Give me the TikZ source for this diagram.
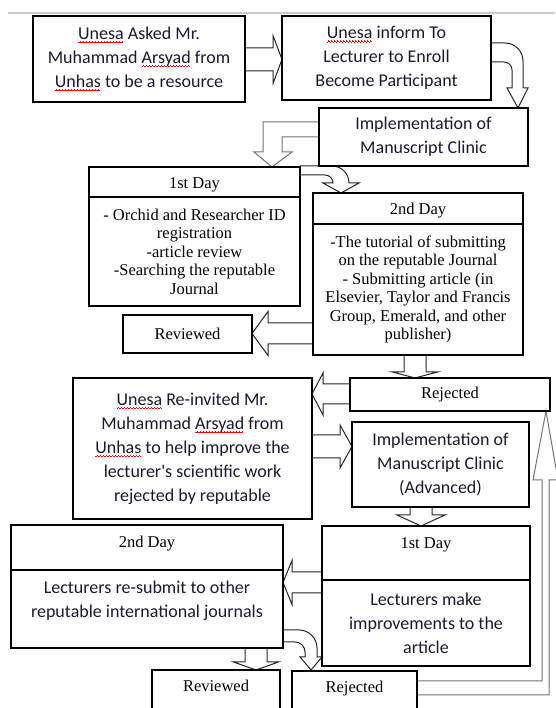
\documentclass[tikz,border=0pt]{standalone}
\usepackage{fontspec}
\usetikzlibrary{calc,positioning,backgrounds}
\newfontfamily\carlito{Carlito}
\newfontfamily\tnr{Liberation Serif}
\definecolor{ink}{RGB}{28,24,48}
\definecolor{rule}{RGB}{200,200,210}
% red squiggle under a word
\newcommand\spell[1]{\setbox0\hbox{#1}\rlap{\textcolor{red}{\leaders\hbox{\rule[-3.6pt]{0.75pt}{0.7pt}\rule[-3pt]{0.75pt}{0.7pt}\rule[-2.4pt]{0.75pt}{0.7pt}\rule[-3pt]{0.75pt}{0.7pt}}\hskip\wd0}}\box0\relax}
% tail, angle, length, shaft half width, head half width, head length
\newcommand\blockarrow[6]{\draw[blk,shift={(#1)},rotate=#2] (0,-#4) -- (#3-#6,-#4) -- (#3-#6,-#5) -- (#3,0) -- (#3-#6,#5) -- (#3-#6,#4) -- (0,#4);}
\tikzset{
  box/.style={draw, line width=2.6pt, outer sep=0pt, inner sep=0pt, align=center, text=ink, font={\carlito\fontsize{18}{24}\selectfont}},
  tbox/.style={box, text=black, font={\tnr\fontsize{16.5}{18.5}\selectfont}},
  blk/.style={draw=black!85, line width=1pt, fill=white, line join=miter}
}
\begin{document}
\begin{tikzpicture}[x=1pt,y=1pt]
\useasboundingbox (0,0) rectangle (555,708);
\draw [line width=2pt, rule] (8,695) -- (555,695);
%first visit
\node[box, minimum width=212, minimum height=86] (ask) at (139,649) {\spell{Unesa} Asked Mr.\\ Muhammad \spell{Arsyad} from\\ \spell{Unhas} to be a resource};
\node[box, minimum width=209, minimum height=84] (inform) at (386.5,650) {\spell{Unesa} inform To\\ Lecturer to Enroll\\ Become Participant};
\node[box, minimum width=209, minimum height=58] (clinic) at (423.5,571) {Implementation of\\ Manuscript Clinic};
\node[tbox, minimum width=211, text height=21.5, text depth=8.5] (d1h) at (194.5,526) {1st Day};
\node[tbox, minimum width=211, minimum height=109, below=0pt of d1h] (d1) {- Orchid and Researcher ID\\ registration\\ -article review\\ -Searching the reputable\\ Journal};
\node[tbox, minimum width=210, text height=21.5, text depth=9.5] (d2h) at (418,499.5) {2nd Day};
\node[tbox, minimum width=210, minimum height=131, below=0pt of d2h] (d2) {-The tutorial of submitting\\ on the reputable Journal\\ - Submitting article (in\\ Elsevier, Taylor and Francis\\ Group, Emerald, and other\\ publisher)};
\node[tbox, minimum width=129, minimum height=38] (rev1) at (187.5,374) {Reviewed};
\node[tbox, minimum width=200, minimum height=33] (rej1) at (450,313.5) {Rejected};
%second visit
\node[box, minimum width=239, minimum height=141] (reinvite) at (192.5,259.5) {\spell{Unesa} Re-invited Mr.\\ Muhammad \spell{Arsyad} from\\ \spell{Unhas} to help improve the\\ lecturer's scientific work\\ rejected by reputable};
\node[box, minimum width=177, minimum height=85] (clinic2) at (440.5,243.5) {Implementation of\\ Manuscript Clinic\\ (Advanced)};
\node[tbox, minimum width=208, text height=22.5, text depth=31.5] (d3h) at (426,155) {1st Day};
\node[box, minimum width=208, minimum height=86, below=0pt of d3h] (d3) {Lecturers make\\ improvements to the\\ article};
\node[tbox, minimum width=272, text height=22.5, text depth=22.5] (d4h) at (147,160.5) {2nd Day};
\node[box, minimum width=272, text height=48, text depth=30, below=0pt of d4h] (d4) {Lecturers re-submit to other\\ reputable international journals};
\node[tbox, minimum width=128, text height=21.5, text depth=20.5] (rev2) at (216,17) {Reviewed};
\node[tbox, minimum width=125, text height=21.5, text depth=19.5] (rej2) at (354.5,16.5) {Rejected};
%arrows
\begin{scope}[on background layer]
\blockarrow{$(ask.east)+(0,-0.5)$}{0}{37}{11.5}{24}{9}
\draw[blk] ($(inform.east)+(0,15)$) -- ++(14,0) arc[start angle=90, end angle=0, radius=18] -- ++(0,-27) -- ++(5,0) -- ($(clinic.north east)+(-10,0)$) -- ++(-11,20) -- ++(5,0) -- ++(0,18) arc[start angle=0, end angle=90, radius=8] -- ($(inform.east)+(0,-4)$);
\draw[blk, draw=black!55] ($(clinic.west)+(0,15)$) -- ++(-56,0) -- ++(0,-30) -- ++(-9,0) -- ($(d1h.north east)+(-28,0)$) -- ++(20,15) -- ++(-10,0) -- ++(0,15) -- (clinic.west);
\draw[blk] ($(d1h.north east)+(0,1)$) -- ++(32,0) arc[start angle=90, end angle=0, radius=17] -- ++(10,0) -- ($(d2h.north)+(-77,0)$) -- ++(-18,10) -- ++(10,0) arc[start angle=0, end angle=90, radius=8] -- ($(d1h.north east)+(0,-8)$);
\blockarrow{$(d2.south west)+(0,21.5)$}{180}{61}{10.5}{22}{16}
\blockarrow{$(d2.south)+(-3,0)$}{-90}{23}{11}{22.5}{6}
\blockarrow{$(rej1.west)+(0,0.5)$}{180}{38}{10}{21}{11}
\blockarrow{$(reinvite.east)+(0,2)$}{0}{40}{11.5}{21.5}{12}
\blockarrow{$(clinic2.south)+(-19.5,0)$}{-90}{19}{11}{24}{11}
\blockarrow{$(d3.north west)+(0,-2.5)$}{180}{39}{10.5}{22}{9}
\blockarrow{$(d4.south east)+(-27,0)$}{-90}{22}{11}{22.5}{8}
\draw[blk] ($(d4.south east)+(0,18)$) -- ++(16,0) arc[start angle=90, end angle=0, radius=18] -- ++(0,-9) -- ++(5,0) -- ($(rej2.north west)+(19,1)$) -- ++(-11,13) -- ++(5,0) -- ++(0,5) arc[start angle=0, end angle=90, radius=10] -- ($(d4.south east)+(0,6)$);
\draw[blk, draw=black!55] ($(rej2.east)+(0,10.5)$) -- ++(125,0) -- ++(0,201) -- ++(-9,0) -- ($(rej1.south east)+(-4,0)$) -- ++(12,-69) -- ++(-9,0) -- ++(0,-215) -- ($(rej2.east)+(0,-3.5)$);
\end{scope}
\end{tikzpicture}
\end{document}
